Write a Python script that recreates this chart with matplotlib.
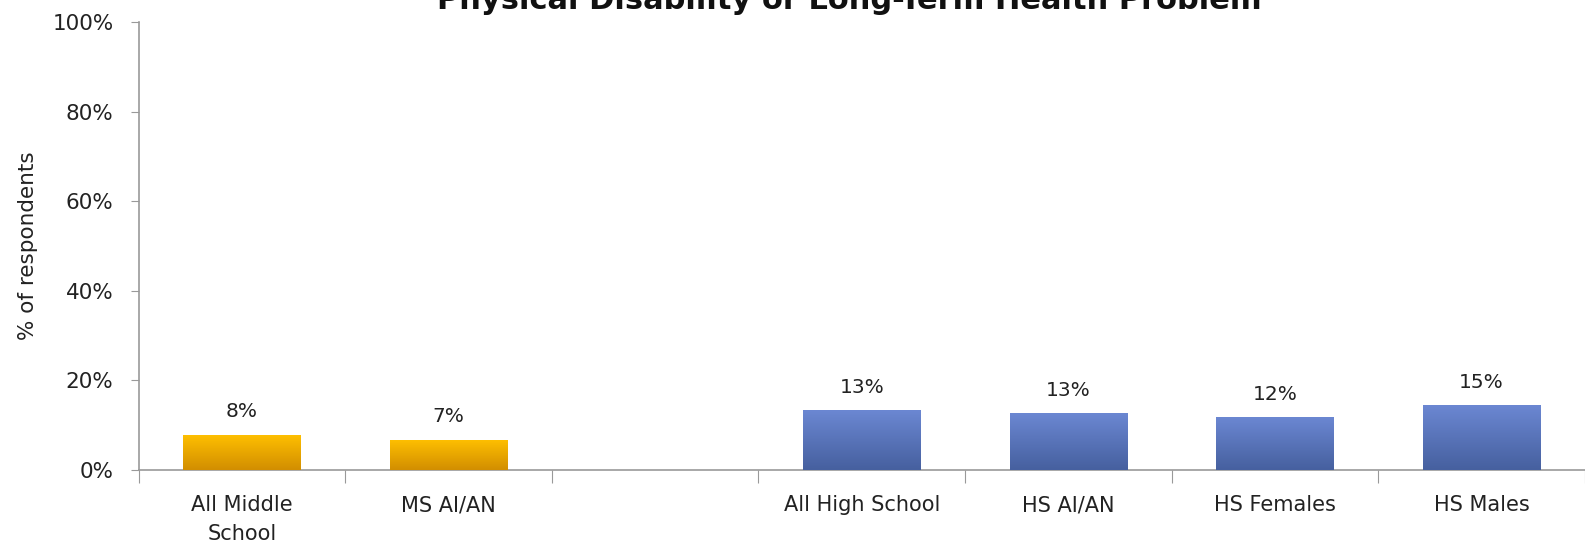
import matplotlib.pyplot as plt
import numpy as np
from matplotlib.colors import LinearSegmentedColormap

# data
categories = ['All Middle\nSchool', 'MS AI/AN', '', 'All High School', 'HS AI/AN', 'HS Females', 'HS Males']
values = [7.9, 6.8, np.nan, 13.3, 12.7, 11.8, 14.5]
labels = ['8%', '7%', '', '13%', '13%', '12%', '15%']
groups = ['ms', 'ms', None, 'hs', 'hs', 'hs', 'hs']

plt.rcParams['font.family'] = 'DejaVu Sans'

fig = plt.figure(figsize=(15.85, 5.53), dpi=100)
ax = fig.add_axes([0.0874, 0.150, 0.9126, 0.810])

cmaps = {
    'ms': LinearSegmentedColormap.from_list('ms', ['#D28E00', '#FFC000']),
    'hs': LinearSegmentedColormap.from_list('hs', ['#46609F', '#6B87D2']),
}
edge = {'ms': '#FFC000', 'hs': '#7090D8'}

x = np.arange(len(categories))
w = 0.57
grad = np.linspace(0, 1, 100).reshape(-1, 1)
for i, v in enumerate(values):
    if groups[i] is None:
        continue
    bar = ax.bar(x[i], v, width=w, color=edge[groups[i]], linewidth=0, zorder=2)[0]
    im = ax.imshow(grad, cmap=cmaps[groups[i]], aspect='auto', origin='lower',
                   extent=(x[i] - w / 2, x[i] + w / 2, 0, v), zorder=3)
    im.set_clip_path(bar)
    ax.text(x[i], v + 3.0, labels[i], ha='center', va='bottom', fontsize=14.5, color='#222222')

ax.set_xlim(-0.5, len(categories) - 0.5)
ax.set_ylim(0, 100)
ax.set_yticks(np.arange(0, 101, 20))
ax.set_yticklabels([f'{t}%' for t in range(0, 101, 20)], fontsize=15.5, color='#222222')
ax.set_xticks(np.arange(-0.5, len(categories), 1))
ax.set_xticklabels([])
ax.set_xticks(x, minor=True)
ax.set_xticklabels(categories, minor=True, fontsize=15, color='#222222', linespacing=1.55)
ax.tick_params(axis='x', which='minor', length=0, pad=18)
ax.tick_params(axis='x', which='major', length=9, color='#999999', direction='out')
ax.tick_params(axis='y', length=6, color='#999999', direction='out', pad=12)

for s in ['top', 'right']:
    ax.spines[s].set_visible(False)
for s in ['left', 'bottom']:
    ax.spines[s].set_color('#999999')
    ax.spines[s].set_linewidth(1.2)

ax.set_ylabel('% of respondents', fontsize=15.5, color='#222222', labelpad=10)

# title sits partly above the top edge, as in the source image
fig.text(0.536, 1 - 9 / 553, 'Physical Disability or Long-Term Health Problem',
         ha='center', va='baseline', fontsize=22, fontweight='bold', color='#111111')

fig.savefig('out.png', dpi=100)
